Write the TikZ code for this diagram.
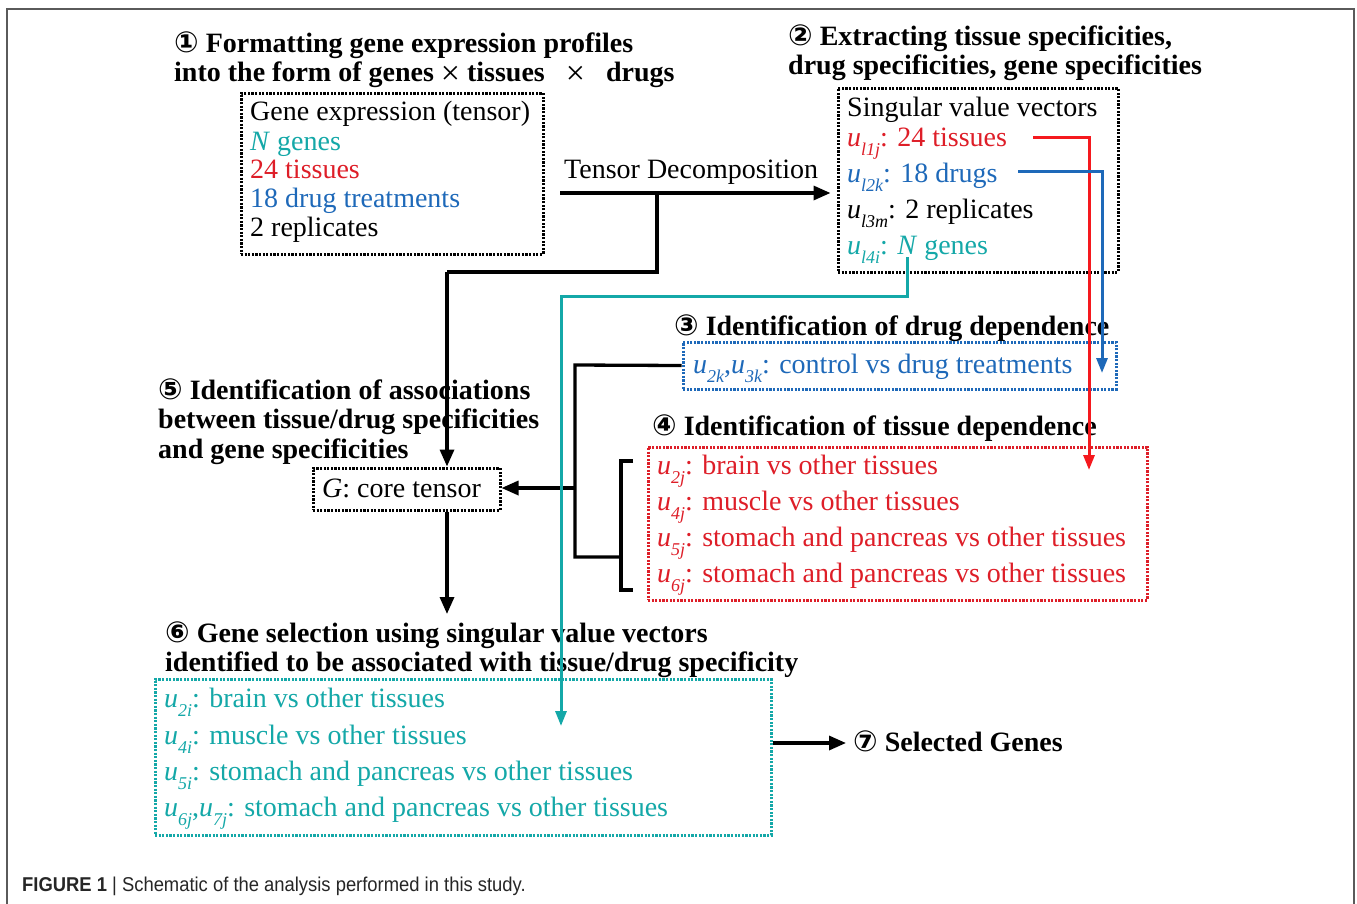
\documentclass[tikz,border=0pt]{standalone}
\usepackage{fontspec}
\setmainfont{Liberation Serif}
\newfontfamily\circfont{DejaVu Sans}
\newfontfamily\capfont[FakeStretch=0.92]{Liberation Sans}
\usetikzlibrary{arrows.meta}
\definecolor{myred}{RGB}{222,30,40}
\definecolor{linered}{RGB}{245,25,30}
\definecolor{myblue}{RGB}{30,105,185}
\definecolor{myteal}{RGB}{20,168,168}
\definecolor{framegray}{RGB}{90,90,90}
\newcommand\cn[1]{{\circfont\fontsize{29}{29}\selectfont #1}}
\newcommand\us[1]{\textit{u}\raisebox{-0.35em}{\fontsize{18}{18}\selectfont\itshape #1}}
\newcommand\bigx{\raisebox{-3pt}[14pt][0pt]{\mdseries\fontsize{34}{29}\selectfont ×}}
\tikzset{
  txt/.style={anchor=base west,inner sep=0pt,font=\fontsize{28}{29}\selectfont},
  ttl/.style={anchor=base west,inner sep=0pt,font=\fontsize{28}{29}\selectfont\bfseries},
  dotbox/.style={draw,line width=3pt,dash pattern=on 2.2pt off 1.4pt,inner sep=0pt},
  blk/.style={line width=3.3pt,draw=black},
  blkarr/.style={blk,-{Triangle[length=17pt,width=14pt]}},
  colarr/.style={line width=3pt,-{Triangle[length=15pt,width=11pt]}},
}
\begin{document}
\begin{tikzpicture}[x=1pt,y=-1pt]
\useasboundingbox (0,0) rectangle (1357,903);
\fill[white] (0,0) rectangle (1357,903);
% outer frame
\draw[framegray,line width=2pt] (7,915) -- (7,9) -- (1354,9) -- (1354,915);

% ---- step 1
\node[ttl] (t1a) at (174,52) {\cn{①} Formatting gene expression profiles};
\node[ttl] (t1b) at (174,81) {into the form of genes\ \bigx\ tissues\ \ \ \bigx\ \ \ drugs};
\node[dotbox,minimum width=302pt,minimum height=161pt] (b1) at (392,173.5) {};
\node[txt] (b1l1) at (250,120) {Gene expression (tensor)};
\node[txt,text=myteal] (b1l2) at (250,150) {\textit{N} genes};
\node[txt,text=myred] (b1l3) at (250,178) {24 tissues};
\node[txt,text=myblue] (b1l4) at (250,207) {18 drug treatments};
\node[txt] (b1l5) at (250,236) {2 replicates};

\node[txt] (td) at (564,178) {Tensor Decomposition};

% ---- step 2
\node[ttl] (t2a) at (788,45) {\cn{②} Extracting tissue specificities,};
\node[ttl] (t2b) at (788,74) {drug specificities, gene specificities};
\node[dotbox,minimum width=280pt,minimum height=184pt] (b2) at (978,180) {};
\node[txt] (b2l1) at (847,116) {Singular value vectors};
\node[txt,text=myred] (b2l2) at (847,146) {\us{l1j}: 24 tissues};
\node[txt,text=myblue] (b2l3) at (847,182) {\us{l2k}: 18 drugs};
\node[txt] (b2l4) at (847,218) {\us{l3m}: 2 replicates};
\node[txt,text=myteal] (b2l5) at (847,254) {\us{l4i}: \textit{N} genes};

% ---- step 3
\node[ttl] (t3) at (674,335) {\cn{③} Identification of drug dependence};
\node[dotbox,draw=myblue,minimum width=433pt,minimum height=47pt] (b3) at (899.5,365.5) {};
\node[txt,text=myblue] (b3l1) at (693,373) {\us{2k},\us{3k}: control vs drug treatments};

% ---- step 4
\node[ttl] (t4) at (652,435) {\cn{④} Identification of tissue dependence};
\node[dotbox,draw=myred,minimum width=499pt,minimum height=153pt] (b4) at (897.5,523.5) {};
\node[txt,text=myred] (b4l1) at (657,474) {\us{2j}: brain vs other tissues};
\node[txt,text=myred] (b4l2) at (657,510) {\us{4j}: muscle vs other tissues};
\node[txt,text=myred] (b4l3) at (657,546) {\us{5j}: stomach and pancreas vs other tissues};
\node[txt,text=myred] (b4l4) at (657,582) {\us{6j}: stomach and pancreas vs other tissues};

% ---- step 5
\node[ttl] (t5a) at (158,399) {\cn{⑤} Identification of associations};
\node[ttl] (t5b) at (158,428) {between tissue/drug specificities};
\node[ttl] (t5c) at (158,458) {and gene specificities};
\node[dotbox,minimum width=187pt,minimum height=42pt] (G) at (406.5,489) {};
\node[txt] (Gl) at (322,497) {\textit{G}: core tensor};

% ---- step 6
\node[ttl] (t6a) at (165,642) {\cn{⑥} Gene selection using singular value vectors};
\node[ttl] (t6b) at (165,671) {identified to be associated with tissue/drug specificity};
\node[dotbox,draw=myteal,minimum width=616pt,minimum height=156pt] (b6) at (463,757) {};
\node[txt,text=myteal] (b6l1) at (164,707) {\us{2i}: brain vs other tissues};
\node[txt,text=myteal] (b6l2) at (164,744) {\us{4i}: muscle vs other tissues};
\node[txt,text=myteal] (b6l3) at (164,780) {\us{5i}: stomach and pancreas vs other tissues};
\node[txt,text=myteal] (b6l4) at (164,816) {\us{6j},\us{7j}: stomach and pancreas vs other tissues};

% ---- step 7
\node[ttl] (t7) at (853,751) {\cn{⑦} Selected Genes};

% ---- caption
\node[anchor=base west,inner sep=0pt,font=\capfont\fontsize{20}{20}\selectfont,text=black!85] (cap) at (22,891)
  {\textbf{FIGURE 1}\ |\ Schematic of the analysis performed in this study.};

% ---- coordinates
\coordinate (tdstart) at (560,193);
\coordinate (split) at (657,193);
\coordinate (splitdown) at (657,272);
\coordinate (gx) at (447,272);
\coordinate (tealstart) at (907,257);
\coordinate (tealturn) at (907,296);
\coordinate (tealx) at (561,296);
\coordinate (tealend) at (561,726);
\coordinate (redstart) at (1033,137);
\coordinate (redx) at (1089,137);
\coordinate (redend) at (1089,470);
\coordinate (bluestart) at (1018,171);
\coordinate (bluex) at (1102,171);
\coordinate (blueend) at (1102,373);
\coordinate (jx) at (575,365);
\coordinate (jmid) at (575,488);
\coordinate (jlow) at (575,557);
\coordinate (brk) at (621,557);
\coordinate (brtop) at (633,461);
\coordinate (brbot) at (633,590);
\coordinate (selin) at (846,743);

% ---- connectors
\draw[blkarr,shorten >=6pt] (tdstart) -- (b2.west |- tdstart);
\draw[blk] (split) -- (splitdown) -- (gx);
\draw[blkarr] (gx) -- (gx |- G.north);
\draw[blk] (b3.west) -- (jx) -- (jlow) -- (brk);
\draw[blk] (brtop) -- (brtop -| brk) -- (brbot -| brk) -- (brbot);
\draw[blkarr] (jmid) -- (G.east |- jmid);
\draw[blkarr] (gx |- G.south) -- (447,614);
\draw[blkarr] (b6.east |- selin) -- (selin);
\draw[colarr,draw=myteal,color=myteal] (tealstart) -- (tealturn) -- (tealx) -- (tealend);
\draw[colarr,draw=linered,color=linered] (redstart) -- (redx) -- (redend);
\draw[colarr,draw=myblue,color=myblue] (bluestart) -- (bluex) -- (blueend);
\end{tikzpicture}
\end{document}
